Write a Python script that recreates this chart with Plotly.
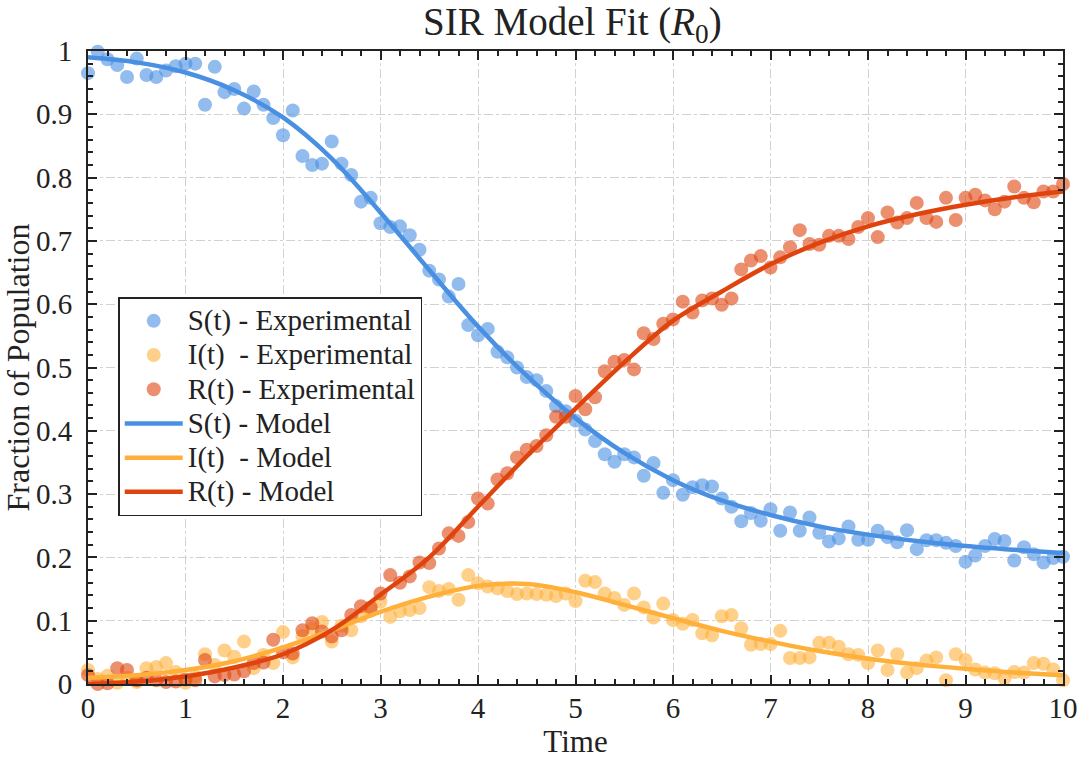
import plotly.graph_objects as go

# ---- data ----
t_exp = [round(i * 0.1, 1) for i in range(101)]

S_exp = [0.965, 0.999, 0.987, 0.978, 0.959, 0.988, 0.962, 0.959, 0.969, 0.976,
         0.980, 0.980, 0.915, 0.975, 0.935, 0.940, 0.909, 0.936, 0.915, 0.894,
         0.867, 0.906, 0.834, 0.820, 0.822, 0.857, 0.822, 0.804, 0.762, 0.768,
         0.728, 0.722, 0.723, 0.709, 0.686, 0.653, 0.639, 0.612, 0.632, 0.567,
         0.551, 0.561, 0.525, 0.516, 0.500, 0.485, 0.480, 0.463, 0.439, 0.431,
         0.416, 0.402, 0.384, 0.363, 0.351, 0.363, 0.358, 0.329, 0.349, 0.302,
         0.322, 0.299, 0.311, 0.314, 0.312, 0.293, 0.280, 0.257, 0.270, 0.258,
         0.276, 0.242, 0.271, 0.242, 0.263, 0.239, 0.225, 0.230, 0.249, 0.228,
         0.228, 0.242, 0.232, 0.224, 0.243, 0.213, 0.227, 0.227, 0.223, 0.218,
         0.193, 0.203, 0.218, 0.229, 0.226, 0.195, 0.216, 0.205, 0.192, 0.199,
         0.201]

I_exp = [0.022, 0.008, 0.013, 0.002, 0.010, 0.003, 0.025, 0.027, 0.033, 0.019,
         0.002, 0.012, 0.047, 0.030, 0.053, 0.043, 0.067, 0.025, 0.046, 0.033,
         0.082, 0.042, 0.076, 0.088, 0.098, 0.067, 0.092, 0.085, 0.107, 0.116,
         0.130, 0.106, 0.115, 0.117, 0.120, 0.153, 0.147, 0.150, 0.133, 0.172,
         0.159, 0.154, 0.151, 0.147, 0.142, 0.143, 0.142, 0.141, 0.139, 0.143,
         0.131, 0.163, 0.161, 0.143, 0.136, 0.125, 0.143, 0.121, 0.105, 0.127,
         0.101, 0.095, 0.101, 0.080, 0.077, 0.107, 0.109, 0.088, 0.062, 0.063,
         0.063, 0.084, 0.041, 0.041, 0.042, 0.065, 0.065, 0.059, 0.047, 0.046,
         0.033, 0.053, 0.022, 0.047, 0.018, 0.025, 0.037, 0.042, 0.006, 0.047,
         0.038, 0.023, 0.018, 0.017, 0.009, 0.019, 0.018, 0.033, 0.032, 0.023,
         0.006]

R_exp = [0.014, 0.000, 0.001, 0.025, 0.022, 0.006, 0.010, 0.006, 0.003, 0.004,
         0.007, 0.006, 0.038, 0.012, 0.014, 0.015, 0.020, 0.033, 0.034, 0.070,
         0.050, 0.048, 0.085, 0.096, 0.083, 0.075, 0.085, 0.109, 0.123, 0.121,
         0.143, 0.172, 0.160, 0.170, 0.192, 0.191, 0.214, 0.238, 0.234, 0.256,
         0.293, 0.285, 0.323, 0.333, 0.358, 0.370, 0.376, 0.393, 0.422, 0.422,
         0.455, 0.434, 0.453, 0.494, 0.509, 0.512, 0.497, 0.554, 0.545, 0.569,
         0.576, 0.604, 0.587, 0.606, 0.609, 0.599, 0.609, 0.655, 0.669, 0.676,
         0.658, 0.674, 0.690, 0.717, 0.695, 0.694, 0.708, 0.708, 0.703, 0.722,
         0.736, 0.706, 0.745, 0.729, 0.736, 0.760, 0.736, 0.730, 0.768, 0.733,
         0.768, 0.773, 0.764, 0.750, 0.762, 0.786, 0.768, 0.761, 0.778, 0.778,
         0.790]

t_model = [0.0, 0.5, 1.0, 1.5, 2.0, 2.5, 3.0, 3.5, 4.0, 4.5, 5.0,
           5.5, 6.0, 6.5, 7.0, 7.5, 8.0, 8.5, 9.0, 9.5, 10.0]
S_model = [0.990, 0.982, 0.966, 0.938, 0.895, 0.830, 0.745, 0.654, 0.565, 0.487, 0.420,
           0.365, 0.322, 0.290, 0.267, 0.249, 0.236, 0.226, 0.218, 0.212, 0.207]
I_model = [0.010, 0.014, 0.022, 0.036, 0.058, 0.085, 0.114, 0.138, 0.155, 0.158, 0.145,
           0.125, 0.104, 0.084, 0.067, 0.052, 0.040, 0.031, 0.024, 0.018, 0.014]
R_model = [0.000, 0.004, 0.012, 0.026, 0.047, 0.085, 0.141, 0.200, 0.280, 0.360, 0.435,
           0.508, 0.574, 0.620, 0.663, 0.697, 0.723, 0.742, 0.757, 0.769, 0.778]

blue = "#4a90e2"
orange = "#ffb03b"
red = "#e0440e"


def lg(txt):
    return '<span style="font-size:29px">' + txt + '</span>'


fig = go.Figure()
for name, ys, c in [("S(t) - Experimental", S_exp, blue),
                    ("I(t)\u00a0 - Experimental", I_exp, orange),
                    ("R(t) - Experimental", R_exp, red)]:
    fig.add_trace(go.Scatter(x=t_exp, y=ys, mode="markers", name=lg(name),
                             marker=dict(color=c, size=14, opacity=0.6, line=dict(width=0)),
                             cliponaxis=False))
for name, ys, c in [("S(t) - Model", S_model, blue),
                    ("I(t)\u00a0 - Model", I_model, orange),
                    ("R(t) - Model", R_model, red)]:
    fig.add_trace(go.Scatter(x=t_model, y=ys, mode="lines", name=lg(name),
                             line=dict(color=c, width=4.5, shape="spline")))

font_family = "Liberation Serif"
axis_common = dict(
    showline=True, linecolor="#222", linewidth=2, mirror="ticks",
    ticks="inside", ticklen=9, tickwidth=2, tickcolor="#222",
    showgrid=True, gridcolor="#d2d2d2", gridwidth=1, griddash="dashdot",
    zeroline=False, automargin=False,
    tickfont=dict(size=29, color="#222", family=font_family),
)

fig.update_xaxes(range=[0, 10], dtick=1, tick0=0,
                 minor=dict(dtick=0.2, ticks="inside", ticklen=5, tickwidth=1.5,
                            tickcolor="#222", showgrid=False),
                 title=dict(text="Time", font=dict(size=31, color="#222", family=font_family), standoff=2),
                 ticklabelstandoff=-3,
                 **axis_common)
fig.update_yaxes(range=[0, 1], dtick=0.1, tick0=0,
                 minor=dict(dtick=0.02, ticks="inside", ticklen=5, tickwidth=1.5,
                            tickcolor="#222", showgrid=False),
                 title=dict(text="Fraction of Population", font=dict(size=32, color="#222", family=font_family), standoff=4),
                 ticklabelstandoff=8,
                 **axis_common)

fig.update_layout(
    width=1080, height=762,
    margin=dict(l=88, r=17, t=51, b=78),
    paper_bgcolor="white", plot_bgcolor="white",
    font=dict(family=font_family, color="#222"),
    title=dict(text="SIR Model Fit (<i>R</i><sub>0</sub>)", x=0.53, xanchor="center",
               y=0.972, yanchor="middle", font=dict(size=39, color="#222", family=font_family)),
    legend=dict(x=0.031, y=0.611, xanchor="left", yanchor="top",
                bgcolor="white", bordercolor="#222", borderwidth=1.5,
                font=dict(size=24, color="#222", family=font_family),
                tracegroupgap=0, itemwidth=58),
    showlegend=True,
)

fig.write_html("out.html")
